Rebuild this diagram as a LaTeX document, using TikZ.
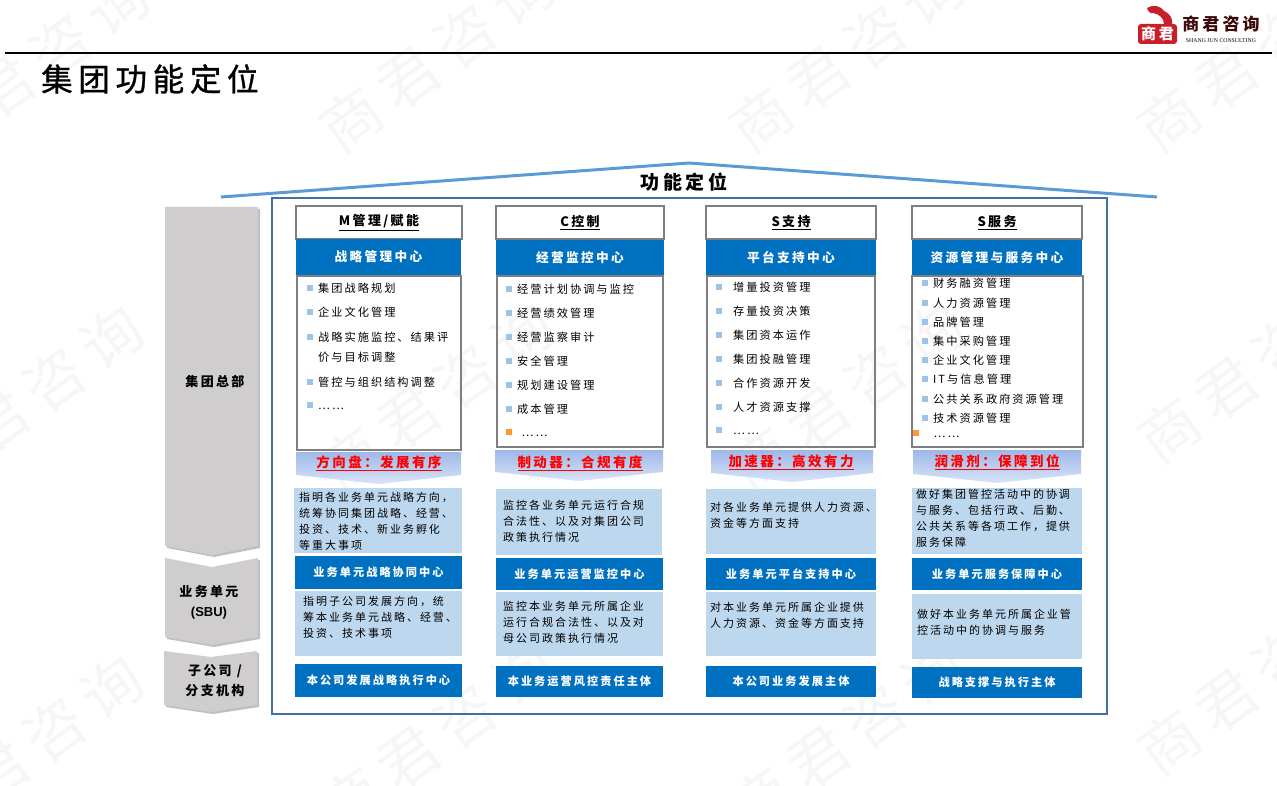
\documentclass[tikz,border=0pt]{standalone}
\usepackage{fontspec}
\setmainfont{Noto Sans CJK SC}[LetterSpace=18]
\newfontfamily\latinserif{Liberation Serif}
\newfontfamily\latinsans{Liberation Sans}
\newfontfamily\titlefont{Noto Sans CJK SC}[LetterSpace=18,FakeBold=1]
\usetikzlibrary{shadows}

\definecolor{deepblue}{HTML}{0070C0}
\definecolor{paleblue}{HTML}{BDD7EE}
\definecolor{boxgray}{HTML}{7F7F7F}
\definecolor{framecol}{HTML}{41719C}
\definecolor{roofcol}{HTML}{5B9BD5}
\definecolor{chevcol}{HTML}{CFCDCD}
\definecolor{bulblue}{HTML}{9DC3E6}
\definecolor{bulorg}{HTML}{FF9933}
\definecolor{bandtop}{HTML}{9DB8E8}
\definecolor{bandbot}{HTML}{D9E4F7}
\definecolor{logored}{HTML}{C8202A}

\newcommand{\bul}[1][bulblue]{\textcolor{#1}{\raisebox{1.5pt}{\rule{5.5pt}{5.5pt}}}\hspace{5.5pt}}

\begin{document}
\begin{tikzpicture}[x=1pt,y=-1pt]

\tikzset{wmark/.style={rotate=36,text=black!3.5,font=\fontsize{60}{60}\selectfont,inner sep=0pt},}
\tikzset{sized/.style 2 args={minimum width=#1,minimum height=#2,inner sep=0pt},}
\tikzset{headbox/.style={draw=boxgray,line width=2.5pt,fill=white,font=\fontsize{13}{15}\selectfont\bfseries},}
\tikzset{centerbox/.style={fill=deepblue,text=white,font=\fontsize{12.7}{15}\selectfont\bfseries},}
\tikzset{subbox/.style={fill=deepblue,text=white,font=\fontsize{11.2}{14}\selectfont\bfseries},}
\tikzset{listbox/.style={draw=boxgray,line width=2.5pt},}
\tikzset{listitem/.style={anchor=west,inner sep=0pt,font=\fontsize{11.2}{14}\selectfont},}
\tikzset{palebox/.style={fill=paleblue},}
\tikzset{paletext/.style={anchor=west,align=left,inner sep=0pt,font=\fontsize{11}{16}\selectfont},}
\tikzset{bandtext/.style={text=red,inner sep=0pt,font=\fontsize{13.5}{15}\selectfont\bfseries},}
\tikzset{sidetext/.style={align=center,inner sep=0pt,font=\fontsize{13}{20}\selectfont\bfseries},}
\tikzset{chevron/.style={fill=chevcol,drop shadow={shadow xshift=2pt,shadow yshift=-2pt,fill=black!25,opacity=1}},}
\tikzset{band/.style={top color=bandtop,bottom color=bandbot},}

\useasboundingbox (0,0) rectangle (1277,786);

  %watermark
  \draw (32,67) node[wmark](wm1) {商君咨询};
  \draw (437,57) node[wmark](wm2) {商君咨询};
  \draw (847,57) node[wmark](wm3) {商君咨询};
  \draw (1255,57) node[wmark](wm4) {商君咨询};
  \draw (26,400) node[wmark](wm5) {商君咨询};
  \draw (437,397) node[wmark](wm6) {商君咨询};
  \draw (847,397) node[wmark](wm7) {商君咨询};
  \draw (1255,368) node[wmark](wm8) {商君咨询};
  \draw (26,750) node[wmark](wm9) {商君咨询};
  \draw (437,737) node[wmark](wm10) {商君咨询};
  \draw (847,737) node[wmark](wm11) {商君咨询};
  \draw (1255,680) node[wmark](wm12) {商君咨询};

  %title and logo
  \draw (41,79) node[anchor=west,inner sep=0pt,font=\titlefont\fontsize{31.5}{33}\selectfont](title) {集团功能定位};
  \draw[line width=2pt] (5,53.5) -- (1272,53.5);
  \fill[logored,rounded corners=3pt] (1138,24) rectangle (1177,44);
  \fill[logored] (1147,8) .. controls (1153,4) and (1161,6) .. (1164,11) .. controls (1171,14) and (1173,20) .. (1172,24) -- (1164,24) .. controls (1164,18) and (1159,14) .. (1153,13) .. controls (1151,14) and (1148,12) .. (1147,8) -- cycle;
  \draw (1157.5,34) node[inner sep=0pt,text=white,font=\fontsize{15}{16}\selectfont\bfseries](logomark) {商君};
  \draw (1221,23.5) node[inner sep=0pt,text=logored!30!black,font=\fontsize{17}{18}\selectfont\bfseries](logoname) {商君咨询};
  \draw (1221,41) node[inner sep=0pt,font=\latinserif\fontsize{5.8}{6}\selectfont](logoen) {SHANG JUN CONSULTING};

  %roof and frame
  \draw[roofcol,line width=3pt] (221,197) -- (689,163) -- (1157,197);
  \draw[framecol,line width=2pt] (272,198) rectangle (1107,714);
  \draw (684,182) node[inner sep=0pt,font=\fontsize{19}{20}\selectfont\bfseries](roofname) {功能定位};

  %left column
  \path[chevron] (165,207) -- (258,207) -- (258,546) -- (212,555) -- (165,546) -- cycle;
  \path[chevron] (165,558) -- (212,567) -- (258,558) -- (258,637) -- (212,645) -- (165,637) -- cycle;
  \path[chevron] (164,651) -- (211,657) -- (257,651) -- (257,705) -- (211,712) -- (164,705) -- cycle;
  \draw (215,382) node[sidetext](hq) {集团总部};
  \draw (209,602) node[sidetext](sbu) {业务单元\\{\latinsans (SBU)}};
  \draw (215,681) node[sidetext](branch) {子公司 /\\分支机构};

  %column M
  \draw (379,222.5) node[headbox,sized={166}{33}](mhead) {\underline{M管理/赋能}};
  \draw (378.5,257) node[centerbox,sized={165}{36}](mcenter) {战略管理中心};
  \draw (379,363) node[listbox,sized={164}{174}](mlist) {};
  \draw (307,288) node[listitem](m1) {\bul 集团战略规划};
  \draw (307,312) node[listitem](m2) {\bul 企业文化管理};
  \draw (307,337) node[listitem](m3) {\bul 战略实施监控、结果评};
  \draw (318,357) node[listitem](m3b) {价与目标调整};
  \draw (307,382) node[listitem](m4) {\bul 管控与组织结构调整};
  \draw (307,406) node[listitem](m5) {\bul ……};
  \shade[band] (296,452) -- (461,452) -- (461,475) -- (379,484) -- (296,475) -- cycle;
  \draw (379,463) node[bandtext](mband) {\underline{方向盘：发展有序}};
  \draw (378,520.5) node[palebox,sized={168}{65}](mpale1) {};
  \draw (299,521) node[paletext](mtext1) {指明各业务单元战略方向，\\统筹协同集团战略、经营、\\投资、技术、新业务孵化\\等重大事项};
  \draw (378.5,572.5) node[subbox,sized={167}{33}](msub) {业务单元战略协同中心};
  \draw (378.5,623.5) node[palebox,sized={167}{65}](mpale2) {};
  \draw (303,617) node[paletext](mtext2) {指明子公司发展方向，统\\筹本业务单元战略、经营、\\投资、技术事项};
  \draw (378.5,680.5) node[subbox,sized={167}{33}](mbase) {本公司发展战略执行中心};

  %column C
  \draw (580,222.5) node[headbox,sized={168}{33}](chead) {\underline{C控制}};
  \draw (580,257.5) node[centerbox,sized={168}{35}](ccenter) {经营监控中心};
  \draw (580,361.5) node[listbox,sized={166}{171}](clist) {};
  \draw (506,289) node[listitem](c1) {\bul 经营计划协调与监控};
  \draw (506,313) node[listitem](c2) {\bul 经营绩效管理};
  \draw (506,337) node[listitem](c3) {\bul 经营监察审计};
  \draw (506,361) node[listitem](c4) {\bul 安全管理};
  \draw (506,385) node[listitem](c5) {\bul 规划建设管理};
  \draw (506,409) node[listitem](c6) {\bul 成本管理};
  \draw (506,433) node[listitem](c7) {\bul[bulorg] ……};
  \shade[band] (495,450) -- (663,450) -- (663,472) -- (579,481) -- (495,472) -- cycle;
  \draw (580,463) node[bandtext](cband) {\underline{制动器：合规有度}};
  \draw (579,522) node[palebox,sized={166}{66}](cpale1) {};
  \draw (503,521) node[paletext](ctext1) {监控各业务单元运行合规\\合法性、以及对集团公司\\政策执行情况};
  \draw (579.5,574) node[subbox,sized={167}{32}](csub) {业务单元运营监控中心};
  \draw (579.5,624) node[palebox,sized={167}{64}](cpale2) {};
  \draw (503,622) node[paletext](ctext2) {监控本业务单元所属企业\\运行合规合法性、以及对\\母公司政策执行情况};
  \draw (579.5,681.5) node[subbox,sized={167}{31}](cbase) {本业务运营风控责任主体};

  %column S support
  \draw (791,222.5) node[headbox,sized={170}{33}](shead) {\underline{S支持}};
  \draw (791,257.5) node[centerbox,sized={170}{35}](scenter) {平台支持中心};
  \draw (791,361.5) node[listbox,sized={168}{171}](slist) {};
  \draw (716,287) node[listitem](s1) {\bul\hspace{6pt}增量投资管理};
  \draw (716,311) node[listitem](s2) {\bul\hspace{6pt}存量投资决策};
  \draw (716,335) node[listitem](s3) {\bul\hspace{6pt}集团资本运作};
  \draw (716,359) node[listitem](s4) {\bul\hspace{6pt}集团投融管理};
  \draw (716,383) node[listitem](s5) {\bul\hspace{6pt}合作资源开发};
  \draw (716,407) node[listitem](s6) {\bul\hspace{6pt}人才资源支撑};
  \draw (716,431) node[listitem](s7) {\bul\hspace{6pt}……};
  \shade[band] (711,450) -- (873,450) -- (873,473) -- (792,482) -- (711,473) -- cycle;
  \draw (791,462) node[bandtext](sband) {\underline{加速器：高效有力}};
  \draw (791,521.5) node[palebox,sized={170}{65}](spale1) {};
  \draw (710,515) node[paletext](stext1) {对各业务单元提供人力资源、\\资金等方面支持};
  \draw (791,574) node[subbox,sized={170}{32}](ssub) {业务单元平台支持中心};
  \draw (791,624) node[palebox,sized={170}{64}](spale2) {};
  \draw (710,615) node[paletext](stext2) {对本业务单元所属企业提供\\人力资源、资金等方面支持};
  \draw (791,681.5) node[subbox,sized={170}{31}](sbase) {本公司业务发展主体};

  %column S service
  \draw (997,222.5) node[headbox,sized={170}{33}](fhead) {\underline{S服务}};
  \draw (997,257.5) node[centerbox,sized={170}{35}](fcenter) {资源管理与服务中心};
  \draw (997.5,361.5) node[listbox,sized={171}{171}](flist) {};
  \draw (922,283) node[listitem](f1) {\bul 财务融资管理};
  \draw (922,303) node[listitem](f2) {\bul 人力资源管理};
  \draw (922,322) node[listitem](f3) {\bul 品牌管理};
  \draw (922,341) node[listitem](f4) {\bul 集中采购管理};
  \draw (922,360) node[listitem](f5) {\bul 企业文化管理};
  \draw (922,379) node[listitem](f6) {\bul IT与信息管理};
  \draw (922,399) node[listitem](f7) {\bul 公共关系政府资源管理};
  \draw (922,418) node[listitem](f8) {\bul 技术资源管理};
  \draw (913,434) node[listitem](f9) {\bul[bulorg]\hspace{9.5pt}……};
  \shade[band] (913,450) -- (1081,450) -- (1081,474) -- (997,483) -- (913,474) -- cycle;
  \draw (997,462) node[bandtext](fband) {\underline{润滑剂：保障到位}};
  \draw (997,521) node[palebox,sized={170}{66}](fpale1) {};
  \draw (916,518) node[paletext](ftext1) {做好集团管控活动中的协调\\与服务、包括行政、后勤、\\公共关系等各项工作，提供\\服务保障};
  \draw (997,574) node[subbox,sized={170}{32}](fsub) {业务单元服务保障中心};
  \draw (997,626.5) node[palebox,sized={170}{65}](fpale2) {};
  \draw (917,622) node[paletext](ftext2) {做好本业务单元所属企业管\\控活动中的协调与服务};
  \draw (997,682.5) node[subbox,sized={170}{31}](fbase) {战略支撑与执行主体};

\end{tikzpicture}
\end{document}
